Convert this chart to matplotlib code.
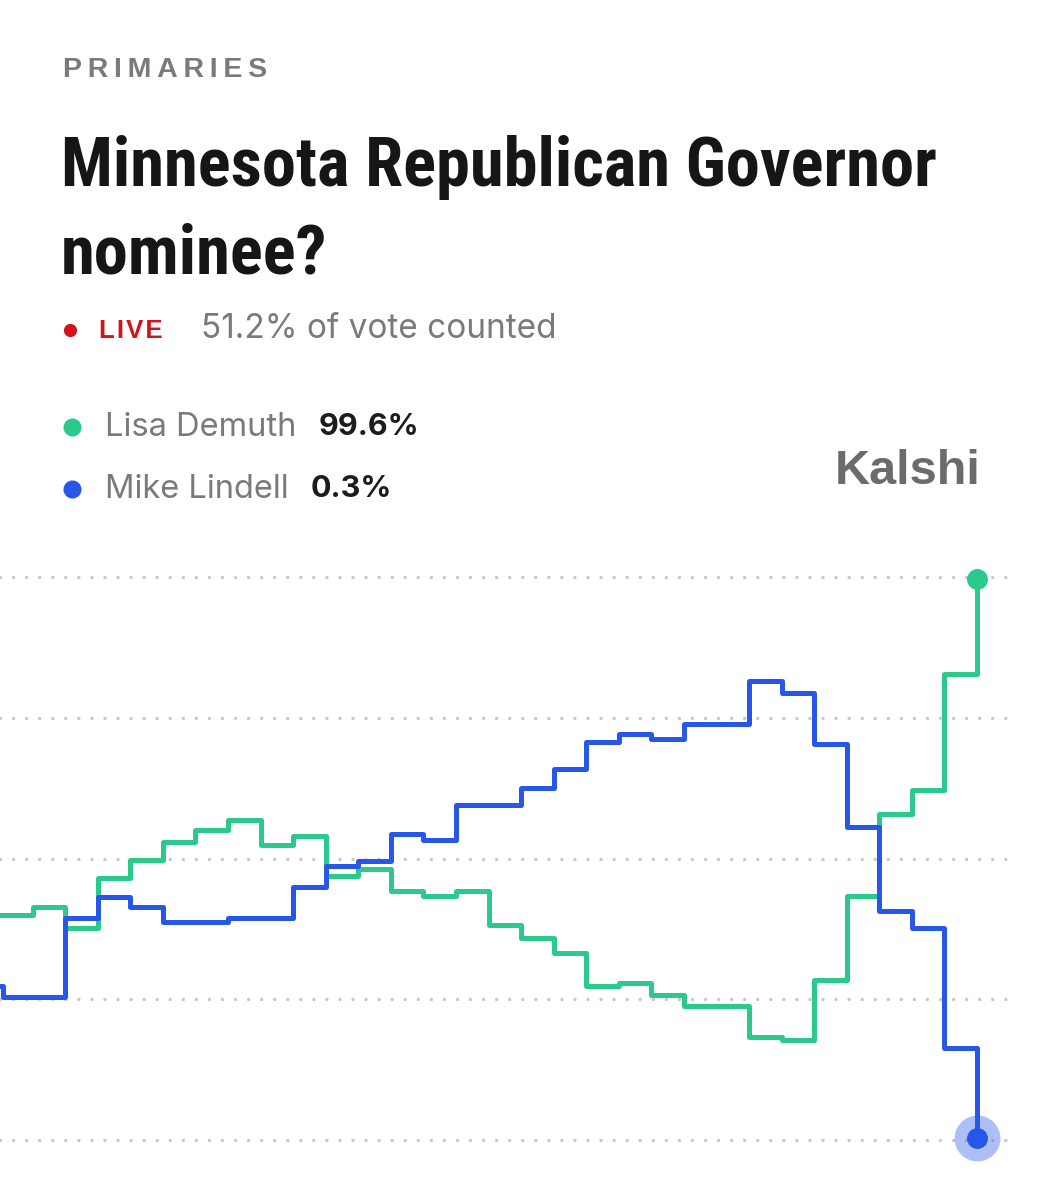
import matplotlib.pyplot as plt
from matplotlib import font_manager
from matplotlib.lines import Line2D

# timeline (one step per update), first two entries are the opening blip
steps = [0, 0.1] + list(range(1, 31))

demuth = [40.0, 40.0, 41.3, 37.7, 46.6, 49.8, 53.0, 55.1, 56.9, 52.4, 54.0,
          46.9, 48.2, 44.3, 43.3, 44.2, 38.2, 35.8, 33.3, 27.4, 27.8,
          25.7, 23.8, 23.8, 18.3, 17.7, 28.4, 43.3, 57.9, 62.2, 82.7, 99.6]
lindell = [27.3, 25.4, 25.4, 39.5, 43.1, 41.4, 38.7, 38.7, 39.5, 39.5, 45.0,
           48.6, 49.6, 54.4, 53.2, 59.5, 59.5, 62.5, 65.9, 70.7, 72.2,
           71.3, 73.9, 73.9, 81.5, 79.4, 70.4, 55.6, 40.7, 37.7, 16.3, 0.3]
grid_levels = [0, 25, 50, 75, 100]

names = ["Lisa Demuth", "Mike Lindell"]
labels = ["99.6%", "0.3%"]

GREEN = "#2bc98c"
BLUE = "#2757e9"
GREY = "#7a7a7a"
W, H = 1043, 1200

# pick a condensed face for the headline if one is installed
installed = {f.name for f in font_manager.fontManager.ttflist}
condensed = [f.name for f in font_manager.fontManager.ttflist
             if f.stretch in ("condensed", "semi-condensed", "extra-condensed")]
head_fam = None
for cand in ["Roboto Condensed", "Liberation Sans Narrow", "DejaVu Sans Condensed",
             "Open Sans Condensed", "Noto Sans Condensed"] + condensed:
    if cand in installed:
        head_fam = cand
        break
if head_fam is None:
    head_fam = "Liberation Sans"

fig = plt.figure(figsize=(W / 100, H / 100), dpi=100)
fig.patch.set_facecolor("white")


def px(x, y):
    return x / W, 1 - y / H


def dot(x, y, size, color):
    fig.add_artist(Line2D([x / W], [1 - y / H], marker="o", markersize=size,
                          color=color, markeredgewidth=0,
                          transform=fig.transFigure))


body = ["Inter", "DejaVu Sans"]
arial = ["Liberation Sans", "DejaVu Sans"]
ts = "\u2009"

fig.text(*px(63, 70), ts.join("PRIMARIES"), fontsize=20.5,
         fontweight="bold", color=GREY, family=arial, va="center")

renderer = fig.canvas.get_renderer()
for line, base in [("Minnesota Republican Governor", 186), ("nominee?", 274)]:
    t = fig.text(*px(61, base), line, fontsize=57, fontweight="bold",
                 color="#161616", family=[head_fam, "DejaVu Sans"],
                 va="baseline", fontstretch="condensed")
    if line.startswith("Minn"):
        wpx = t.get_window_extent(renderer).width
        size = min(57, 57 * 874 / wpx)
    t.set_fontsize(size)

# live row
dot(70, 330, 9.5, "#d4121c")
fig.text(*px(99, 331), "\u200a".join("LIVE"), fontsize=18.5, fontweight="bold",
         color="#d4121c", family=arial, va="center")
fig.text(*px(201, 329), "51.2% of vote counted", fontsize=24, color=GREY,
         family=body, va="center")

# legend rows
for i, (nm, lb, c) in enumerate(zip(names, labels, [GREEN, BLUE])):
    y = 427 + 62 * i
    dot(72, y, 13, c)
    t = fig.text(*px(105, y), nm, fontsize=23.5, color=GREY, family=body,
                 va="center")
    bb = t.get_window_extent(renderer)
    fig.text((bb.x1 + 22) / W, 1 - y / H, lb, fontsize=22, fontweight="bold",
             color="#1c1c1c", family=body, va="center")

fig.text(*px(981, 472), "Kalshi", fontsize=35, fontweight="bold",
         color="#6b6b6b", family=arial, va="center", ha="right")

# chart
ax = fig.add_axes([0, 1 - 1180 / H, 1, 640 / H])
ax.set_xlim(0, W / (977 / 30))
ax.set_ylim((1140 - 1180) / 5.63, (1140 - 540) / 5.63)
ax.axis("off")

for g in grid_levels:
    ax.hlines(g, 0.0, 31.0, colors="#c9c9c9", linewidth=2.5,
              linestyles=(0, (0.01, 3.75)), capstyle="round", zorder=1)

ax.step(steps, demuth, where="post", color=GREEN, linewidth=3.6,
        solid_joinstyle="round", zorder=3)
ax.step(steps, lindell, where="post", color=BLUE, linewidth=3.6,
        solid_joinstyle="round", zorder=4)

ax.plot(steps[-1], demuth[-1], "o", color=GREEN, markersize=14, zorder=5)
ax.plot(steps[-1], lindell[-1], "o", color=BLUE, alpha=0.38,
        markersize=33, markeredgewidth=0, zorder=5)
ax.plot(steps[-1], lindell[-1], "o", color=BLUE, markersize=14, zorder=6)

fig.savefig("out.png", dpi=100, facecolor="white")
